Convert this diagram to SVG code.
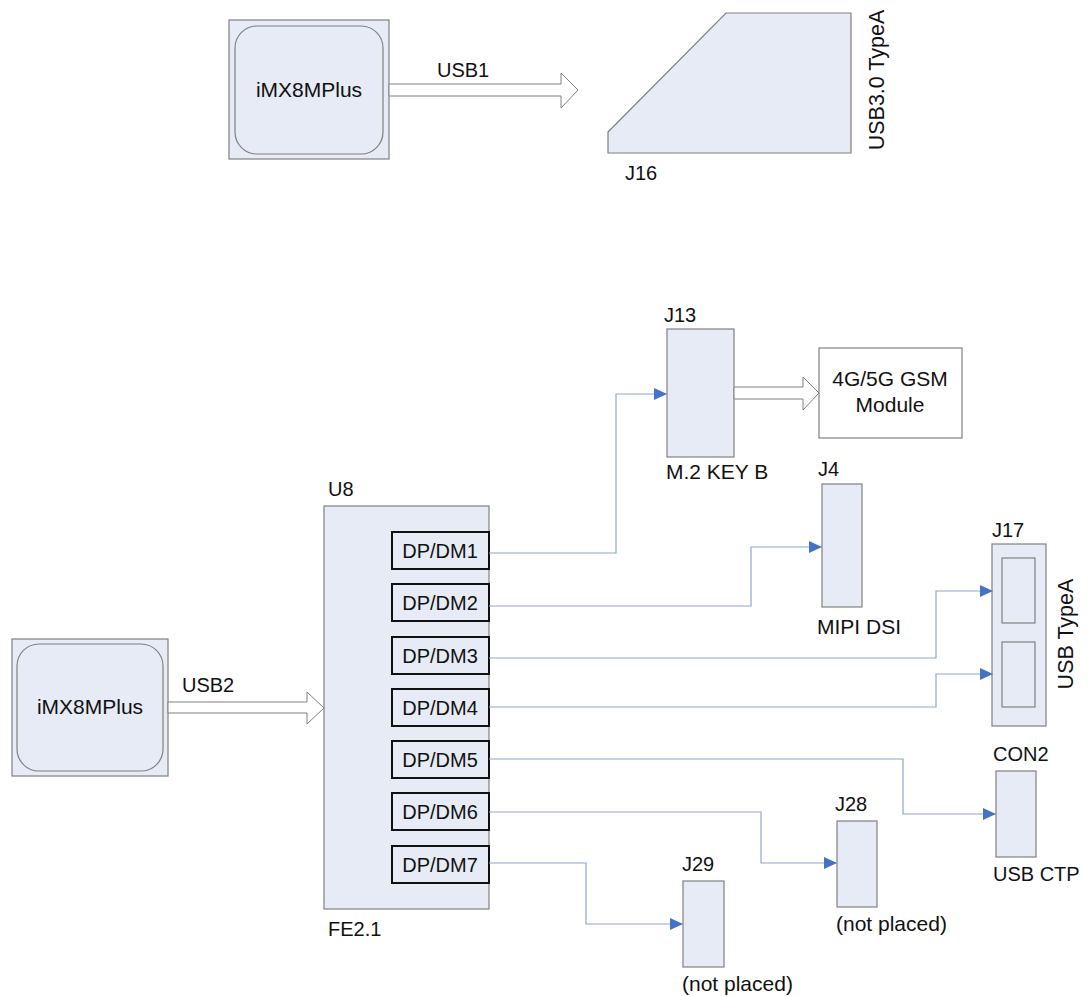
<svg xmlns="http://www.w3.org/2000/svg" width="1089" height="996" viewBox="0 0 1089 996">
<style>
text{font-family:"Liberation Sans",Arial,sans-serif;font-size:20px;fill:#111}
.l{font-size:21px}
.r{font-size:21.5px}
.blk{fill:#e6ebf6;stroke:#808080;stroke-width:1.2}
.wh{fill:#fff;stroke:#808080;stroke-width:1.2}
.pin{fill:#e6ebf6;stroke:#111;stroke-width:2}
.conn{fill:none;stroke:#8ea6d6;stroke-width:1.2}
.big{fill:#fff;stroke:#808080;stroke-width:1}
.c{text-anchor:middle}
</style>
<defs>
<marker id="ah" markerWidth="14" markerHeight="12" refX="13" refY="6" orient="auto" markerUnits="userSpaceOnUse">
<path d="M0,0 L13,6 L0,12 Z" fill="#4472c4"/>
</marker>
</defs>
<rect width="1089" height="996" fill="#fff"/>
<g id="imx_top">
<rect class="blk" x="229" y="20" width="160" height="139"/>
<rect class="blk" x="235" y="26" width="148" height="128" rx="22"/>
<text class="c l" x="309" y="97">iMX8MPlus</text>
</g>
<g id="j16">
<path class="blk" d="M608,132 L726,13 L851,13 L851,153 L608,153 Z"/>
<text x="625" y="180">J16</text>
<text class="c r" transform="translate(884,80) rotate(-90)">USB3.0 TypeA</text>
</g>
<g id="imx_bot">
<rect class="blk" x="12" y="639" width="156" height="137"/>
<rect class="blk" x="17" y="644" width="146" height="127" rx="22"/>
<text class="c l" x="90" y="714">iMX8MPlus</text>
</g>
<g id="u8">
<rect class="blk" x="324" y="506" width="165" height="403"/>
<text x="328" y="496">U8</text>
<text x="328" y="936">FE2.1</text>
<rect class="pin" x="392" y="532" width="97" height="37"/><text class="c" x="440" y="558">DP/DM1</text>
<rect class="pin" x="392" y="584" width="97" height="37"/><text class="c" x="440" y="610">DP/DM2</text>
<rect class="pin" x="392" y="637" width="97" height="37"/><text class="c" x="440" y="663">DP/DM3</text>
<rect class="pin" x="392" y="689" width="97" height="37"/><text class="c" x="440" y="715">DP/DM4</text>
<rect class="pin" x="392" y="741" width="97" height="37"/><text class="c" x="440" y="767">DP/DM5</text>
<rect class="pin" x="392" y="793" width="97" height="37"/><text class="c" x="440" y="819">DP/DM6</text>
<rect class="pin" x="392" y="846" width="97" height="37"/><text class="c" x="440" y="872">DP/DM7</text>
</g>
<g id="j13">
<rect class="blk" x="667" y="329" width="67" height="128"/>
<text x="664" y="322">J13</text>
<text class="l" x="666" y="479">M.2 KEY B</text>
</g>
<g id="gsm">
<rect class="wh" x="819" y="348" width="143" height="90"/>
<text class="c l" x="890" y="386">4G/5G GSM</text>
<text class="c l" x="890" y="412">Module</text>
</g>
<g id="j4">
<rect class="blk" x="822" y="484" width="40" height="123"/>
<text x="818" y="476">J4</text>
<text class="l" x="817" y="634">MIPI DSI</text>
</g>
<g id="j17">
<rect class="blk" x="992" y="544" width="54" height="182"/>
<rect class="blk" x="1002" y="558" width="33" height="65"/>
<rect class="blk" x="1002" y="642" width="33" height="65"/>
<text x="992" y="537">J17</text>
<text class="c r" transform="translate(1073,634) rotate(-90)">USB TypeA</text>
</g>
<g id="con2">
<rect class="blk" x="996" y="771" width="40" height="86"/>
<text x="993" y="761">CON2</text>
<text x="993" y="881">USB CTP</text>
</g>
<g id="j28">
<rect class="blk" x="837" y="821" width="40" height="86"/>
<text x="835" y="811">J28</text>
<text class="l" x="836" y="931">(not placed)</text>
</g>
<g id="j29">
<rect class="blk" x="683" y="881" width="41" height="86"/>
<text x="682" y="871">J29</text>
<text class="l" x="682" y="991">(not placed)</text>
</g>
<g id="connectors">
<path class="big" d="M389,84 L561,84 L561,73 L578,90 L561,108 L561,96 L389,96 Z"/>
<text x="437" y="77">USB1</text>
<path class="big" d="M168,702 L307,702 L307,692 L324,708 L307,724 L307,713 L168,713 Z"/>
<text x="182" y="692">USB2</text>
<path class="big" d="M734,387 L803,387 L803,377 L819,393 L803,410 L803,399 L734,399 Z"/>
<path class="conn" marker-end="url(#ah)" d="M489,553 H616 V394 H667"/>
<path class="conn" marker-end="url(#ah)" d="M489,606 H751 V547 H822"/>
<path class="conn" marker-end="url(#ah)" d="M489,658 H936 V591 H993"/>
<path class="conn" marker-end="url(#ah)" d="M489,707 H936 V674 H993"/>
<path class="conn" marker-end="url(#ah)" d="M489,759 H903 V814 H996"/>
<path class="conn" marker-end="url(#ah)" d="M489,812 H761 V863 H837"/>
<path class="conn" marker-end="url(#ah)" d="M489,863 H586 V924 H683"/>
</g>
</svg>
